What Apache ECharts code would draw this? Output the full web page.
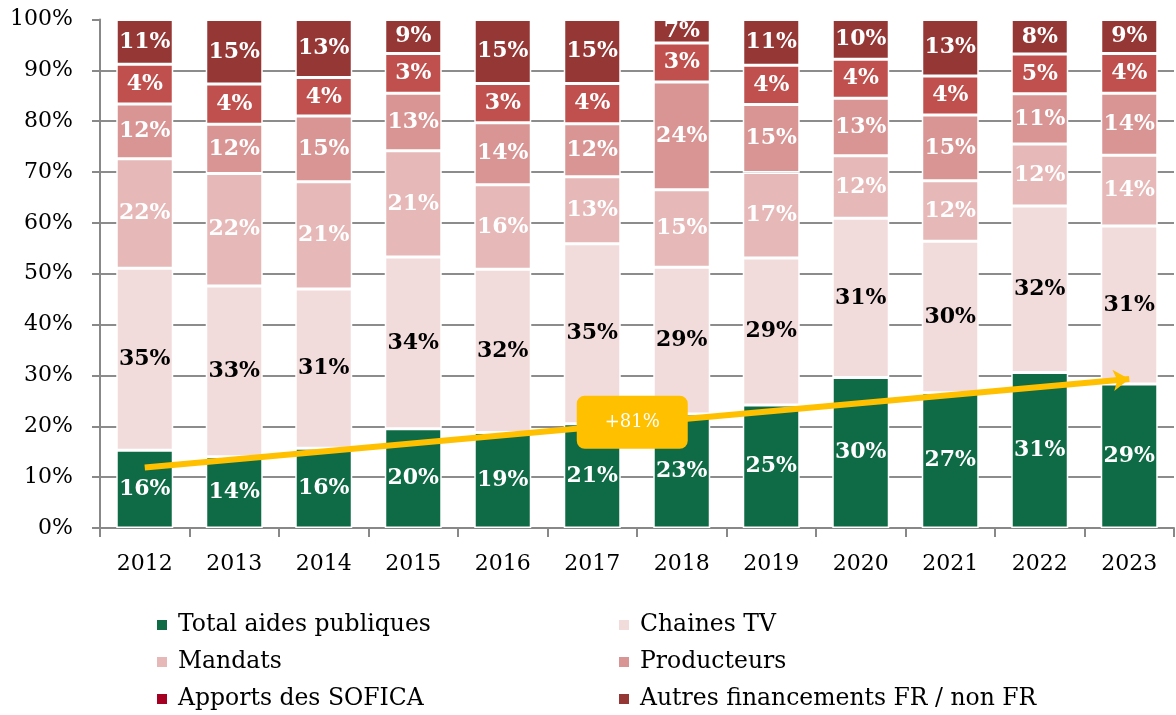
<!DOCTYPE html>
<html>
<head>
<meta charset="utf-8">
<script src="https://cdn.jsdelivr.net/npm/echarts@6/dist/echarts.min.js"></script>
<style>
  html, body { margin: 0; padding: 0; background: #fff; }
  #chart { width: 1176px; height: 715px; }
</style>
</head>
<body>
<div id="chart"></div>
<script>
// years on the x axis
var years = ['2012', '2013', '2014', '2015', '2016', '2017', '2018', '2019', '2020', '2021', '2022', '2023'];

// segment heights (%) as drawn
var aides = [15.3, 14.0, 15.7, 19.5, 18.8, 20.5, 22.4, 24.2, 29.6, 26.6, 30.6, 28.3];
var chaines = [35.8, 33.6, 31.3, 33.8, 32.1, 35.4, 28.9, 28.9, 31.3, 29.8, 32.7, 31.1];
var mandats = [21.5, 22.1, 21.1, 20.9, 16.6, 13.2, 15.2, 16.8, 12.3, 11.9, 12.2, 13.9];
var producteurs = [10.8, 9.7, 12.9, 11.3, 12.2, 10.4, 21.2, 13.4, 11.3, 12.9, 9.9, 12.2];
var sofica = [7.8, 7.9, 7.6, 7.8, 7.7, 7.9, 7.7, 7.7, 7.7, 7.7, 7.8, 7.8];
var autres = [8.8, 12.7, 11.4, 6.7, 12.6, 12.6, 4.6, 9.0, 7.8, 11.1, 6.8, 6.7];

// printed labels (%)
var aidesLbl = [16, 14, 16, 20, 19, 21, 23, 25, 30, 27, 31, 29];
var chainesLbl = [35, 33, 31, 34, 32, 35, 29, 29, 31, 30, 32, 31];
var mandatsLbl = [22, 22, 21, 21, 16, 13, 15, 17, 12, 12, 12, 14];
var producteursLbl = [12, 12, 15, 13, 14, 12, 24, 15, 13, 15, 11, 14];
var soficaLbl = [4, 4, 4, 3, 3, 4, 3, 4, 4, 4, 5, 4];
var autresLbl = [11, 15, 13, 9, 15, 15, 7, 11, 10, 13, 8, 9];

// trend arrow and its note
var trendStart = ['2012', 11.9];
var trendEnd = ['2023', 29.3];
var trendNote = '+81%';
var notePos = ['2017', 20.8];

var font = 'DejaVu Serif';

function bar(name, data, labels, color, textColor) {
    return {
        name: name,
        type: 'bar',
        stack: 'total',
        barWidth: 57,
        data: data,
        itemStyle: { color: color, borderColor: '#fff', borderWidth: 1.5 },
        label: {
            show: true,
            position: 'inside',
            color: textColor,
            fontFamily: font,
            fontWeight: 'bold',
            fontSize: 22,
            formatter: function (p) { return labels[p.dataIndex] + '%'; }
        },
        emphasis: { disabled: true }
    };
}

var series = [
    bar('Total aides publiques', aides, aidesLbl, '#0E6B45', '#fff'),
    bar('Chaines TV', chaines, chainesLbl, '#F2DCDB', '#000'),
    bar('Mandats', mandats, mandatsLbl, '#E6B9B8', '#fff'),
    bar('Producteurs', producteurs, producteursLbl, '#D99594', '#fff'),
    bar('Apports des SOFICA', sofica, soficaLbl, '#C0504D', '#fff'),
    bar('Autres financements FR / non FR', autres, autresLbl, '#953735', '#fff')
];

series[4].markLine = {
    silent: true,
    symbol: ['none', 'arrow'],
    symbolSize: [16, 16],
    lineStyle: { color: '#FFC000', width: 6, type: 'solid' },
    label: { show: false },
    data: [[{ coord: trendStart }, { coord: trendEnd }]]
};
series[5].markPoint = {
    silent: true,
    symbol: 'path://M8,0 H103 A8,8 0 0 1 111,8 V45 A8,8 0 0 1 103,53 H8 A8,8 0 0 1 0,45 V8 A8,8 0 0 1 8,0 Z',
    symbolSize: [111, 53],
    symbolOffset: [40, 0],
    itemStyle: { color: '#FFC000' },
    label: { show: true, color: '#fff', fontFamily: font, fontSize: 18, formatter: trendNote },
    data: [{ coord: notePos }]
};

var legendText = { fontFamily: font, fontSize: 23.5, color: '#000', lineHeight: 24, padding: [0, 0, 0, 5] };

var myChart = echarts.init(document.getElementById('chart'));
var option = {
    backgroundColor: '#fff',
    animation: false,
    grid: { left: 100, right: 2, top: 19.5, bottom: 187 },
    legend: [{
        orient: 'vertical',
        left: 155,
        top: 613,
        height: 102,
        padding: 0,
        icon: 'rect',
        itemWidth: 12,
        itemHeight: 12,
        itemGap: 13,
        textStyle: legendText,
        data: ['Total aides publiques', 'Mandats', { name: 'Apports des SOFICA', itemStyle: { color: '#A50021' } }]
    }, {
        orient: 'vertical',
        left: 617,
        top: 613,
        height: 102,
        padding: 0,
        icon: 'rect',
        itemWidth: 12,
        itemHeight: 12,
        itemGap: 13,
        textStyle: legendText,
        data: ['Chaines TV', 'Producteurs', 'Autres financements FR / non FR']
    }],
    xAxis: {
        type: 'category',
        data: years,
        axisLine: { lineStyle: { color: '#888', width: 2 } },
        axisTick: { show: true, length: 9, lineStyle: { color: '#888', width: 2 } },
        axisLabel: { color: '#000', fontFamily: font, fontSize: 22, margin: 25 }
    },
    yAxis: {
        type: 'value',
        min: 0,
        max: 100,
        interval: 10,
        axisLine: { show: true, lineStyle: { color: '#888', width: 2 } },
        axisTick: { show: true, length: 8, lineStyle: { color: '#888', width: 2 } },
        axisLabel: { color: '#000', fontFamily: font, fontSize: 22, margin: 27, formatter: '{value}%' },
        splitLine: { show: true, showMaxLine: false, lineStyle: { color: '#8c8c8c', width: 2 } }
    },
    series: series
};
myChart.setOption(option);
window.addEventListener('resize', function () {
    myChart.resize();
});
</script>
</body>
</html>
